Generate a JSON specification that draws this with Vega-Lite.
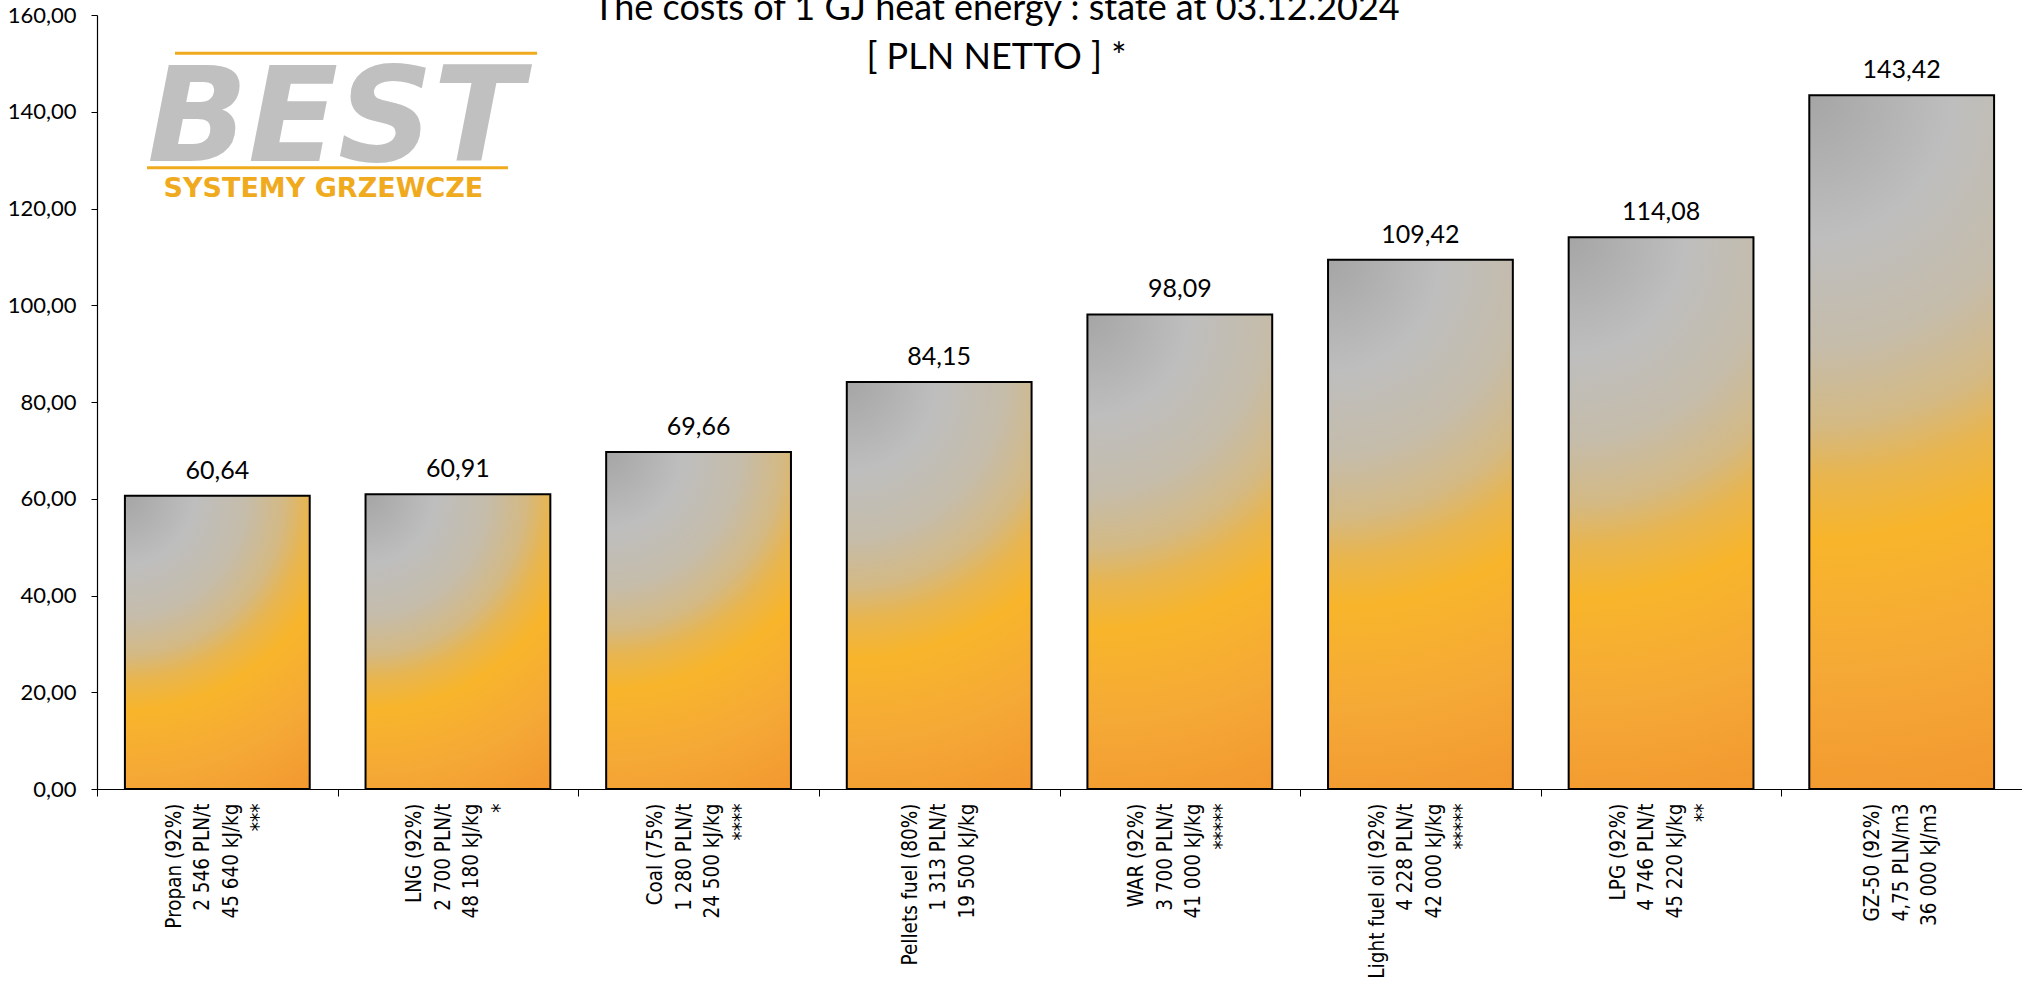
{
  "$schema": "https://vega.github.io/schema/vega-lite/v6.json",
  "width": 1925,
  "height": 774,
  "autosize": {"type": "none"},
  "padding": {"left": 97, "top": 15, "right": 0, "bottom": 193},
  "background": "white",
  "config": {
    "locale": {"number": {"decimal": ",", "thousands": " ", "grouping": [3], "currency": ["", " zł"]}},
    "view": {"stroke": null}
  },
  "title": {
    "text": ["The costs of 1 GJ heat energy : state at 03.12.2024", "[ PLN NETTO ] *"],
    "font": "Lato",
    "fontSize": 36,
    "fontWeight": "normal",
    "color": "#000000",
    "lineHeight": 49,
    "anchor": "middle",
    "frame": "group",
    "baseline": "alphabetic",
    "dx": -63,
    "offset": -101
  },
  "data": {
    "values": [
      {"fuel": "Propan (92%)|2 546 PLN/t|45 640 kJ/kg|***", "cost": 60.64},
      {"fuel": "LNG (92%)|2 700 PLN/t|48 180 kJ/kg|*", "cost": 60.91},
      {"fuel": "Coal (75%)|1 280 PLN/t|24 500 kJ/kg|****", "cost": 69.66},
      {"fuel": "Pellets fuel (80%)|1 313 PLN/t|19 500 kJ/kg", "cost": 84.15},
      {"fuel": "WAR (92%)|3 700 PLN/t|41 000 kJ/kg|*****", "cost": 98.09},
      {"fuel": "Light fuel oil (92%)|4 228 PLN/t|42 000 kJ/kg|*****", "cost": 109.42},
      {"fuel": "LPG (92%)|4 746 PLN/t|45 220 kJ/kg|**", "cost": 114.08},
      {"fuel": "GZ-50 (92%)|4,75 PLN/m3|36 000 kJ/m3", "cost": 143.42}
    ]
  },
  "layer": [
    {
      "mark": {"type": "bar", "width": {"band": 0.768}, "stroke": "#000000", "strokeWidth": 2},
      "encoding": {
        "x": {
          "field": "fuel", "type": "nominal", "sort": null,
          "scale": {"paddingInner": 0, "paddingOuter": 0},
          "axis": {
            "title": null,
            "labelExpr": "split(datum.label, '|')",
            "labelAngle": -90,
            "labelAlign": "right",
            "labelBaseline": {"condition": {"test": "length(split(datum.label, '|')) === 3", "value": "line-top"}, "value": "middle"},
            "labelOffset": -43,
            "labelFont": "DejaVu Sans Condensed",
            "labelFontSize": 20.5,
            "labelLineHeight": 28.5,
            "labelColor": "#000000",
            "labelLimit": 400,
            "labelPadding": 7,
            "tickBand": "extent",
            "tickSize": 7,
            "tickColor": "#000000",
            "domainColor": "#000000",
            "domainWidth": 1.2,
            "grid": false
          }
        },
        "y": {
          "field": "cost", "type": "quantitative",
          "scale": {"domain": [0, 160], "nice": false},
          "axis": {
            "title": null,
            "values": [0, 20, 40, 60, 80, 100, 120, 140, 160],
            "format": ".2f",
            "labelFont": "Lato",
            "labelFontSize": 22,
            "labelColor": "#000000",
            "labelPadding": 15,
            "tickSize": 6,
            "tickColor": "#000000",
            "domainColor": "#000000",
            "domainWidth": 1.2,
            "grid": false
          }
        },
        "fill": {
          "condition": [
            {"test": "datum.cost === 60.64", "value": {"gradient": "radial", "x1": 0.185, "y1": 0, "r1": 0, "x2": 0.185, "y2": 0, "r2": 1.182, "stops": [{"offset": 0, "color": "#a5a5a5"}, {"offset": 0.2, "color": "#bebebe"}, {"offset": 0.35, "color": "#c5bcaa"}, {"offset": 0.46, "color": "#d4b983"}, {"offset": 0.53, "color": "#e8b54f"}, {"offset": 0.62, "color": "#f8b52b"}, {"offset": 0.8, "color": "#f5a936"}, {"offset": 1, "color": "#f2982f"}]}},
            {"test": "datum.cost === 60.91", "value": {"gradient": "radial", "x1": 0.1865, "y1": 0, "r1": 0, "x2": 0.1865, "y2": 0, "r2": 1.18, "stops": [{"offset": 0, "color": "#a5a5a5"}, {"offset": 0.2, "color": "#bebebe"}, {"offset": 0.35, "color": "#c5bcaa"}, {"offset": 0.46, "color": "#d4b983"}, {"offset": 0.53, "color": "#e8b54f"}, {"offset": 0.62, "color": "#f8b52b"}, {"offset": 0.8, "color": "#f5a936"}, {"offset": 1, "color": "#f2982f"}]}},
            {"test": "datum.cost === 69.66", "value": {"gradient": "radial", "x1": 0.2258, "y1": 0, "r1": 0, "x2": 0.2258, "y2": 0, "r2": 1.14, "stops": [{"offset": 0, "color": "#a5a5a5"}, {"offset": 0.2, "color": "#bebebe"}, {"offset": 0.35, "color": "#c5bcaa"}, {"offset": 0.46, "color": "#d4b983"}, {"offset": 0.53, "color": "#e8b54f"}, {"offset": 0.62, "color": "#f8b52b"}, {"offset": 0.8, "color": "#f5a936"}, {"offset": 1, "color": "#f2982f"}]}},
            {"test": "datum.cost === 84.15", "value": {"gradient": "radial", "x1": 0.273, "y1": 0, "r1": 0, "x2": 0.273, "y2": 0, "r2": 1.098, "stops": [{"offset": 0, "color": "#a5a5a5"}, {"offset": 0.2, "color": "#bebebe"}, {"offset": 0.35, "color": "#c5bcaa"}, {"offset": 0.46, "color": "#d4b983"}, {"offset": 0.53, "color": "#e8b54f"}, {"offset": 0.62, "color": "#f8b52b"}, {"offset": 0.8, "color": "#f5a936"}, {"offset": 1, "color": "#f2982f"}]}},
            {"test": "datum.cost === 98.09", "value": {"gradient": "radial", "x1": 0.3053, "y1": 0, "r1": 0, "x2": 0.3053, "y2": 0, "r2": 1.073, "stops": [{"offset": 0, "color": "#a5a5a5"}, {"offset": 0.2, "color": "#bebebe"}, {"offset": 0.35, "color": "#c5bcaa"}, {"offset": 0.46, "color": "#d4b983"}, {"offset": 0.53, "color": "#e8b54f"}, {"offset": 0.62, "color": "#f8b52b"}, {"offset": 0.8, "color": "#f5a936"}, {"offset": 1, "color": "#f2982f"}]}},
            {"test": "datum.cost === 109.42", "value": {"gradient": "radial", "x1": 0.3254, "y1": 0, "r1": 0, "x2": 0.3254, "y2": 0, "r2": 1.059, "stops": [{"offset": 0, "color": "#a5a5a5"}, {"offset": 0.2, "color": "#bebebe"}, {"offset": 0.35, "color": "#c5bcaa"}, {"offset": 0.46, "color": "#d4b983"}, {"offset": 0.53, "color": "#e8b54f"}, {"offset": 0.62, "color": "#f8b52b"}, {"offset": 0.8, "color": "#f5a936"}, {"offset": 1, "color": "#f2982f"}]}},
            {"test": "datum.cost === 114.08", "value": {"gradient": "radial", "x1": 0.3326, "y1": 0, "r1": 0, "x2": 0.3326, "y2": 0, "r2": 1.055, "stops": [{"offset": 0, "color": "#a5a5a5"}, {"offset": 0.2, "color": "#bebebe"}, {"offset": 0.35, "color": "#c5bcaa"}, {"offset": 0.46, "color": "#d4b983"}, {"offset": 0.53, "color": "#e8b54f"}, {"offset": 0.62, "color": "#f8b52b"}, {"offset": 0.8, "color": "#f5a936"}, {"offset": 1, "color": "#f2982f"}]}}
          ],
          "value": {"gradient": "radial", "x1": 0.3668, "y1": 0, "r1": 0, "x2": 0.3668, "y2": 0, "r2": 1.035, "stops": [{"offset": 0, "color": "#a5a5a5"}, {"offset": 0.2, "color": "#bebebe"}, {"offset": 0.35, "color": "#c5bcaa"}, {"offset": 0.46, "color": "#d4b983"}, {"offset": 0.53, "color": "#e8b54f"}, {"offset": 0.62, "color": "#f8b52b"}, {"offset": 0.8, "color": "#f5a936"}, {"offset": 1, "color": "#f2982f"}]}
        }
      }
    },
    {
      "mark": {"type": "text", "font": "Lato", "fontSize": 25, "color": "#000000", "baseline": "alphabetic", "dy": -17},
      "encoding": {
        "x": {"field": "fuel", "type": "nominal", "sort": null, "scale": {"paddingInner": 0, "paddingOuter": 0}, "axis": null},
        "y": {"field": "cost", "type": "quantitative"},
        "text": {"field": "cost", "type": "quantitative", "format": ".2f"}
      }
    },
    {
      "data": {"values": [{}]},
      "layer": [
        {
          "mark": {"type": "rule", "color": "#f0aa1e", "strokeWidth": 3, "strokeCap": "butt"},
          "encoding": {
            "x": {"datum": 0.324, "type": "quantitative", "scale": {"domain": [0, 8], "nice": false, "zero": false}, "axis": null},
            "x2": {"datum": 1.829},
            "y": {"datum": 152.1, "type": "quantitative"}
          }
        },
        {
          "mark": {"type": "rule", "color": "#f0aa1e", "strokeWidth": 3, "strokeCap": "butt"},
          "encoding": {
            "x": {"datum": 0.208, "type": "quantitative"},
            "x2": {"datum": 1.708},
            "y": {"datum": 128.4, "type": "quantitative"}
          }
        },
        {
          "mark": {"type": "text", "text": "BEST", "font": "DejaVu Sans", "fontSize": 132, "fontWeight": "bold", "fontStyle": "italic", "color": "#c0c0c0", "align": "center", "baseline": "alphabetic"},
          "encoding": {
            "x": {"datum": 0.99, "type": "quantitative"},
            "y": {"datum": 129.8, "type": "quantitative"}
          }
        },
        {
          "mark": {"type": "text", "text": "SYSTEMY GRZEWCZE", "font": "DejaVu Sans", "fontSize": 27, "fontWeight": "bold", "color": "#f0aa1e", "align": "center", "baseline": "alphabetic"},
          "encoding": {
            "x": {"datum": 0.941, "type": "quantitative"},
            "y": {"datum": 122.4, "type": "quantitative"}
          }
        }
      ]
    }
  ],
  "resolve": {"scale": {"x": "independent"}}
}
